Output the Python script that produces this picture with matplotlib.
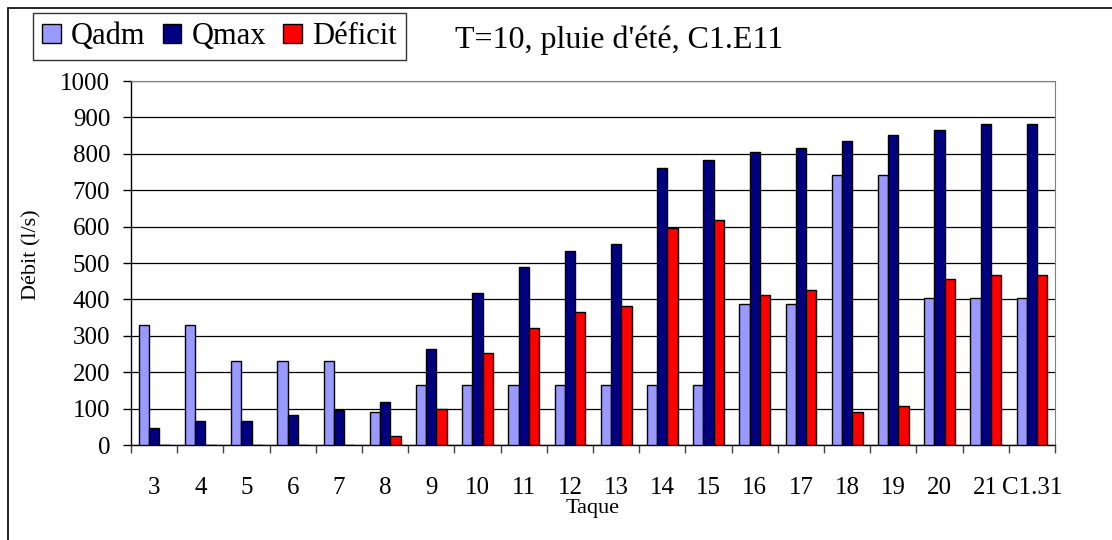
import numpy as np
import matplotlib
matplotlib.use("Agg")
import matplotlib.pyplot as plt
from matplotlib.patches import Rectangle, Patch

plt.rcParams['font.family'] = ['Liberation Serif', 'DejaVu Serif']

# data
taques = ['3', '4', '5', '6', '7', '8', '9', '10', '11', '12', '13',
          '14', '15', '16', '17', '18', '19', '20', '21', 'C1.31']
qadm = [330, 330, 230, 230, 230, 91, 165, 165, 165, 165, 165,
        165, 165, 387, 387, 743, 743, 404, 404, 404]
qmax = [47, 65, 65, 82, 96, 117, 264, 417, 489, 534, 552,
        760, 783, 804, 817, 835, 852, 865, 883, 883]
deficit = [0, 0, 0, 0, 0, 26, 100, 252, 321, 366, 382,
           595, 617, 413, 426, 91, 108, 456, 468, 468]

W, H = 1112, 540
fig = plt.figure(figsize=(W / 100, H / 100), dpi=100)
fig.patch.set_facecolor('white')

# outer chart frame (runs past the right and bottom edges)
fig.patches.append(Rectangle((8 / W, -0.2), 1.2, 1.2 - 8 / H,
                             transform=fig.transFigure, fill=False,
                             edgecolor='black', linewidth=1.2))

ax = fig.add_axes([131 / W, 1 - 445 / H, 924 / W, 364 / H])

x = np.arange(len(taques))
w = 1 / 4.5
cols = ['#9999FF', '#000080', '#FF0000']
names = ['Qadm', 'Qmax', 'Déficit']
for k, (vals, c) in enumerate(zip([qadm, qmax, deficit], cols)):
    ax.bar(x + (k - 1) * w, vals, w, color=c, edgecolor='black',
           linewidth=1, zorder=3)

ax.set_xlim(-0.5, len(taques) - 0.5)
ax.set_ylim(0, 1000)
ax.set_yticks(np.arange(0, 1001, 100))
ax.yaxis.grid(True, color='black', linewidth=0.9, zorder=0)
ax.tick_params(axis='y', direction='out', length=6, width=1, pad=9,
               labelsize=18)

ax.set_xticks(x)
ax.set_xticklabels(taques, fontsize=18)
ax.set_xticks(np.arange(-0.5, len(taques), 1), minor=True)
ax.tick_params(axis='x', which='major', length=0, pad=23)
ax.tick_params(axis='x', which='minor', direction='out', length=6, width=1,
               color='#444444')

for s in ['top', 'right']:
    ax.spines[s].set_color('#808080')
for s in ['left', 'bottom']:
    ax.spines[s].set_color('black')
    ax.spines[s].set_linewidth(1)

ax.set_ylabel('Débit (l/s)', fontsize=16, va='center')
ax.yaxis.set_label_coords((32 - 131) / 924, (445 - 255) / 364)
ax.set_xlabel('Taque', fontsize=16, va='center')
ax.xaxis.set_label_coords(0.5, (445 - 509) / 364)

handles = [Patch(facecolor=c, edgecolor='black', linewidth=1) for c in cols]
leg = fig.legend(handles, names, loc='upper left',
                 bbox_to_anchor=(33 / W, 1 - 13 / H), ncol=3,
                 prop={'family': ['Liberation Serif', 'DejaVu Serif'],
                       'size': 22},
                 frameon=True, fancybox=False, borderaxespad=0,
                 handlelength=0.62, handleheight=0.56, handletextpad=0.33,
                 columnspacing=0.55, borderpad=0.3)
leg.get_frame().set_edgecolor('black')
leg.get_frame().set_linewidth(1)

fig.text(455 / W, 1 - 40 / H, "T=10, pluie d'été, C1.E11", fontsize=23,
         va='center', ha='left')

fig.savefig('out.png', dpi=100)
